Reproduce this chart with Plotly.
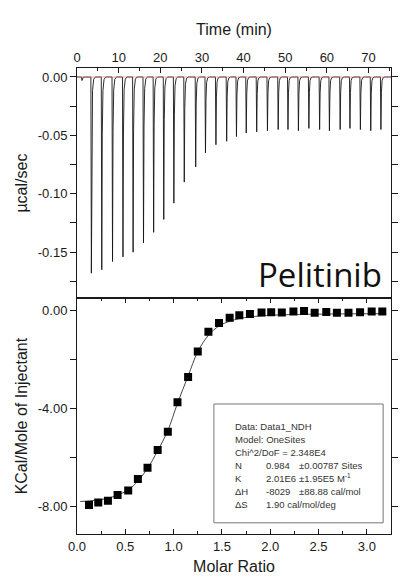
import plotly.graph_objects as go

# ---------------- data ----------------
# raw thermogram: injection peak times (min) and peak heat rates (µcal/sec)
inj_time = [1.2, 3.45, 5.95, 8.53, 11.04, 13.47, 15.97, 18.40, 20.83, 23.26, 25.76,
            28.50, 30.85, 33.36, 35.94, 38.29, 40.64, 43.15, 45.73, 48.31, 50.66,
            53.17, 55.68, 58.26, 60.61, 63.19, 65.54, 68.05, 70.54, 72.98]
inj_peak = [-0.003, -0.168, -0.165, -0.158, -0.154, -0.150, -0.142, -0.133, -0.122, -0.108,
            -0.090, -0.077, -0.065, -0.058, -0.055, -0.051, -0.048, -0.047, -0.046,
            -0.045, -0.045, -0.046, -0.044, -0.045, -0.046, -0.045, -0.044, -0.045,
            -0.046, -0.045]

# integrated heats
molar_ratio = [0.124, 0.22, 0.32, 0.42, 0.53, 0.63, 0.73, 0.835, 0.94, 1.04, 1.15,
               1.25, 1.36, 1.47, 1.58, 1.68, 1.79, 1.91, 2.01, 2.12, 2.24, 2.35,
               2.46, 2.58, 2.69, 2.81, 2.93, 3.05, 3.16]
kcal = [-7.93, -7.83, -7.76, -7.52, -7.34, -6.87, -6.41, -5.69, -4.95, -3.75, -2.72,
        -1.68, -0.88, -0.52, -0.31, -0.20, -0.15, -0.09, -0.08, -0.09, -0.05, -0.03,
        -0.10, -0.07, -0.10, -0.10, -0.08, -0.05, -0.05]

# fitted curve
fit_x = [0.034, 0.125, 0.22, 0.32, 0.42, 0.53, 0.63, 0.73, 0.835, 0.94, 1.04, 1.15,
         1.25, 1.36, 1.47, 1.58, 1.68, 1.79, 1.91, 2.02, 2.3, 2.7, 3.2]
fit_y = [-7.79, -7.76, -7.72, -7.66, -7.52, -7.32, -6.95, -6.44, -5.72, -4.90, -3.79,
         -2.68, -1.69, -1.02, -0.64, -0.45, -0.34, -0.27, -0.23, -0.20, -0.17, -0.15,
         -0.14]

top_x_ticks = [0, 10, 20, 30, 40, 50, 60, 70]
top_y_ticks = [0.0, -0.05, -0.10, -0.15]
top_y_text = ["0.00", "-0.05", "-0.10", "-0.15"]
bot_x_ticks = [0.0, 0.5, 1.0, 1.5, 2.0, 2.5, 3.0]
bot_x_text = ["0.0", "0.5", "1.0", "1.5", "2.0", "2.5", "3.0"]
bot_y_ticks = [0.0, -4.0, -8.0]
bot_y_text = ["0.00", "-4.00", "-8.00"]

fit_labels = ["Data: Data1_NDH", "Model: OneSites", "Chi^2/DoF = 2.348E4"]
param_names = ["N", "K", "ΔH", "ΔS"]
param_values = ["0.984", "2.01E6", "-8029", "1.90 cal/mol/deg"]
param_errors = ["±0.00787 Sites", "±1.95E5 M<sup>-1</sup>", "±88.88 cal/mol", ""]

# ---------------- build thermogram line from injections ----------------
shape_dt = [-0.12, 0.0, 0.12, 0.28, 0.55, 0.95]
shape_fr = [0.0, 1.0, 0.30, 0.07, 0.012, 0.0]
tx, ty = [0.0], [0.0]
for t, p in zip(inj_time, inj_peak):
    for dt, fr in zip(shape_dt, shape_fr):
        tx.append(t + dt)
        ty.append(p * fr)
tx.append(75.4)
ty.append(0.0)

FONT = "Arial, Liberation Sans, sans-serif"
INK = "#1a1a1a"

fig = go.Figure()
fig.add_trace(go.Scatter(x=tx, y=ty, mode="lines",
                         line=dict(color="#151515", width=0.9),
                         xaxis="x", yaxis="y", showlegend=False))
fig.add_trace(go.Scatter(x=[0, 75.4], y=[0, 0], mode="lines",
                         line=dict(color="rgba(225,120,110,0.8)", width=0.8),
                         xaxis="x", yaxis="y", hoverinfo="skip", showlegend=False))
fig.add_trace(go.Scatter(x=fit_x, y=fit_y, mode="lines", line_shape="spline",
                         line=dict(color="#333333", width=0.9),
                         xaxis="x2", yaxis="y2", showlegend=False))
fig.add_trace(go.Scatter(x=molar_ratio, y=kcal, mode="markers",
                         marker=dict(symbol="square", size=8, color="#000000"),
                         xaxis="x2", yaxis="y2", showlegend=False))

split = 0.506
axis_common = dict(showline=True, linecolor=INK, linewidth=1, showgrid=False,
                   zeroline=False, tickcolor=INK,
                   tickfont=dict(family=FONT, size=13, color=INK))

fig.update_layout(
    width=402, height=583,
    margin=dict(l=77, r=4, t=68, b=49),
    paper_bgcolor="white", plot_bgcolor="white",
    showlegend=False,
    xaxis=dict(domain=[0, 1], anchor="y", side="top", range=[0, 75.4],
               tickvals=top_x_ticks, ticks="inside", ticklen=5, mirror=True,
               minor=dict(dtick=5, ticks="inside", ticklen=3, tickcolor=INK),
               title=dict(text="Time (min)", standoff=10,
                          font=dict(family=FONT, size=16, color=INK)),
               **axis_common),
    yaxis=dict(domain=[split, 1], anchor="x", range=[-0.1894, 0.0077],
               tickvals=top_y_ticks, ticktext=top_y_text,
               ticks="outside", ticklen=6, mirror="ticks",
               minor=dict(dtick=0.025, ticks="outside", ticklen=6, tickcolor=INK),
               title=dict(text="µcal/sec", standoff=6,
                          font=dict(family=FONT, size=16, color=INK)),
               **axis_common),
    xaxis2=dict(domain=[0, 1], anchor="y2", range=[0, 3.25],
                tickvals=bot_x_ticks, ticktext=bot_x_text,
                ticks="inside", ticklen=5, mirror="ticks",
                minor=dict(dtick=0.25, ticks="inside", ticklen=3, tickcolor=INK),
                title=dict(text="Molar Ratio", standoff=8,
                           font=dict(family=FONT, size=16, color=INK)),
                **axis_common),
    yaxis2=dict(domain=[0, split], anchor="x2", range=[-9.11, 0.49],
                tickvals=bot_y_ticks, ticktext=bot_y_text,
                ticks="outside", ticklen=6, mirror="ticks",
                minor=dict(dtick=2, ticks="outside", ticklen=6, tickcolor=INK),
                title=dict(text="KCal/Mole of Injectant", standoff=6,
                           font=dict(family=FONT, size=16, color=INK)),
                **axis_common),
)

# fit-result box
fig.add_shape(type="rect", xref="paper", yref="paper",
              x0=0.436, x1=0.975, y0=0.024, y1=0.279,
              line=dict(color="#777777", width=1), fillcolor="white", layer="above")

def py(px):
    return (534 - px) / 466.0

def pxx(px):
    return (px - 77) / 321.0

row_y = [426, 439, 452, 465, 478, 491, 504]
small = dict(family=FONT, size=9.5, color="#333333")
for i, txt in enumerate(fit_labels):
    fig.add_annotation(text=txt, x=pxx(236), y=py(row_y[i]), xref="paper", yref="paper",
                       xanchor="left", yanchor="middle", showarrow=False, font=small)
for j in range(len(param_names)):
    yy = py(row_y[3 + j])
    fig.add_annotation(text=param_names[j], x=pxx(236), y=yy, xref="paper", yref="paper",
                       xanchor="left", yanchor="middle", showarrow=False, font=small)
    fig.add_annotation(text=param_values[j], x=pxx(268), y=yy, xref="paper", yref="paper",
                       xanchor="left", yanchor="middle", showarrow=False, font=small)
    if param_errors[j]:
        fig.add_annotation(text=param_errors[j], x=pxx(302), y=yy, xref="paper", yref="paper",
                           xanchor="left", yanchor="middle", showarrow=False, font=small)

fig.add_annotation(text="Pelitinib", x=pxx(391), y=py(274), xref="paper", yref="paper",
                   xanchor="right", yanchor="middle", showarrow=False,
                   font=dict(family="Open Sans, sans-serif", size=33, color="#111111"))

fig.write_html("out.html")
